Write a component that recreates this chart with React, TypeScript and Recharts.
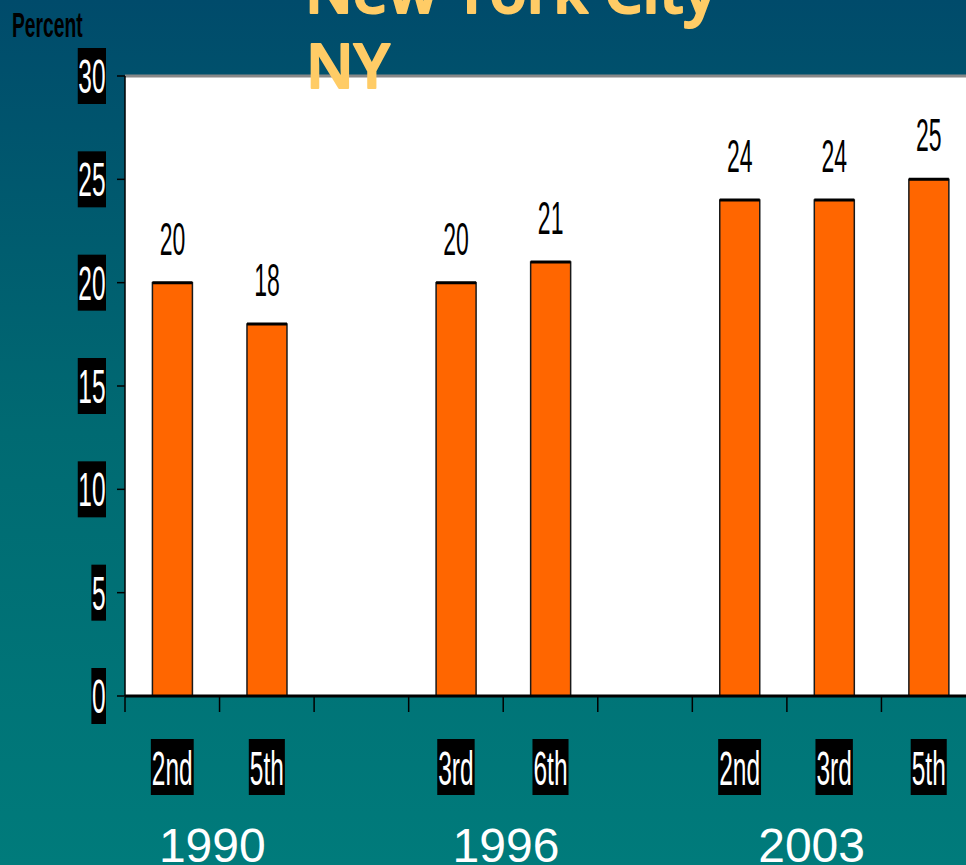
import React from 'react';
import {
  BarChart,
  Bar,
  XAxis,
  YAxis,
  CartesianGrid,
  ReferenceLine,
  LabelList,
} from 'recharts';

const grades = ['2nd', '5th', '', '3rd', '6th', '', '2nd', '3rd', '5th'];
const percents = [20, 18, null, 20, 21, null, 24, 24, 25];
const years = ['1990', '1996', '2003'];
const yearSlots = [0, 3, 6];
const yTicks = [0, 5, 10, 15, 20, 25, 30];

const chartData = grades.map((grade, i) => ({
  key: String(i),
  grade,
  value: percents[i],
}));

const CHART_W = 990;
const MARGIN = { top: 76, right: 14, bottom: 0, left: 0 };
const Y_AXIS_W = 125;
// width of one category slot, used for the tick marks between slots
const slotW = (CHART_W - MARGIN.left - MARGIN.right - Y_AXIS_W) / grades.length;

// nudges the year captions the way the slide had them
const yearShift = [40, 50, 72];

const FONT = '"Liberation Sans", Arial, sans-serif';
const charW: Record<string, number> = { n: 0.556, d: 0.556, t: 0.278, h: 0.556, r: 0.333 };
const textWidth = (s: string, size: number) =>
  s.split('').reduce((sum, c) => sum + (charW[c] ?? 0.556), 0) * size * 0.5;

const YTick = (props: any) => {
  const { x, y, payload } = props;
  const label = String(payload.value);
  const w = textWidth(label, 49) + 1;
  return (
    <g>
      <rect x={x - w} y={y - 28} width={w} height={56} fill="#000" />
      <text
        transform={`translate(${x - w / 2},${y + 17}) scale(0.5,1)`}
        textAnchor="middle"
        fontFamily={FONT}
        fontSize={49}
        fill="#fff"
      >
        {label}
      </text>
    </g>
  );
};

const XTick = (props: any) => {
  const { x, y, index } = props;
  const label = grades[index];
  const w = textWidth(label, 49) + 2;
  const yearIdx = yearSlots.indexOf(index);
  const left = x - slotW / 2;
  return (
    <g>
      <line x1={left} x2={left} y1={y + 1} y2={y + 16} stroke="#000" strokeWidth={1.5} />
      {index === grades.length - 1 && (
        <line x1={left + slotW} x2={left + slotW} y1={y + 1} y2={y + 16} stroke="#000" strokeWidth={1.5} />
      )}
      {label && (
        <>
          <rect x={x - w / 2} y={y + 43} width={w} height={56} fill="#000" />
          <text
            transform={`translate(${x},${y + 89}) scale(0.5,1)`}
            textAnchor="middle"
            fontFamily={FONT}
            fontSize={49}
            fill="#fff"
          >
            {label}
          </text>
        </>
      )}
      {yearIdx >= 0 && (
        <text
          x={x + yearShift[yearIdx]}
          y={y + 166}
          textAnchor="middle"
          fontFamily={FONT}
          fontSize={48}
          fill="#fff"
        >
          {years[yearIdx]}
        </text>
      )}
    </g>
  );
};

const BarShape = (props: any) => {
  const { x, y, width, height } = props;
  if (!height) return null;
  return (
    <g>
      <rect x={x} y={y} width={width} height={height} fill="#FF6600" stroke="#1a1a1a" strokeWidth={1.5} />
      <line x1={x} x2={x + width} y1={y} y2={y} stroke="#000" strokeWidth={3} />
    </g>
  );
};

const ValueLabel = (props: any) => {
  const { x, y, width, value } = props;
  if (value == null) return null;
  return (
    <text
      transform={`translate(${x + width / 2},${y - 28}) scale(0.5,1)`}
      textAnchor="middle"
      fontFamily={FONT}
      fontSize={46}
      fill="#000"
    >
      {value}
    </text>
  );
};

const App: React.FC = () => {
  return (
    <div
      style={{
        position: 'fixed',
        left: 0,
        top: 0,
        width: 966,
        height: 865,
        overflow: 'hidden',
        background: 'linear-gradient(to bottom, #004b6b 0%, #006a72 50%, #007b7b 100%)',
      }}
    >
      <BarChart
        width={CHART_W}
        height={865}
        data={chartData}
        margin={MARGIN}
        barCategoryGap="29%"
      >
        <CartesianGrid
          horizontal={false}
          vertical={false}
          fill="#ffffff"
          fillOpacity={1}
        />
        <XAxis
          dataKey="key"
          height={169}
          interval={0}
          tickLine={false}
          axisLine={{ stroke: '#000', strokeWidth: 3 }}
          tickSize={0}
          tickMargin={0}
          tick={<XTick />}
        />
        <YAxis
          width={Y_AXIS_W}
          domain={[0, 30]}
          ticks={yTicks}
          interval={0}
          tickSize={8}
          tickMargin={11}
          tickLine={{ stroke: '#000', strokeWidth: 1.5 }}
          axisLine={{ stroke: '#000', strokeWidth: 1.5 }}
          tick={<YTick />}
        />
        <ReferenceLine y={30} stroke="#888888" strokeWidth={3} />
        <Bar dataKey="value" shape={<BarShape />} isAnimationActive={false}>
          <LabelList dataKey="value" content={<ValueLabel />} />
        </Bar>
      </BarChart>
      <svg
        width={966}
        height={865}
        style={{ position: 'absolute', left: 0, top: 0, pointerEvents: 'none' }}
      >
        <text
          transform="translate(12,37) scale(0.55,1)"
          fontFamily={FONT}
          fontWeight={700}
          fontSize={35}
          fill="#000"
        >
          Percent
        </text>
        <g
          fontFamily='"Open Sans", sans-serif'
          fontWeight={600}
          fontSize={61}
          fill="#FFCC66"
          stroke="#FFCC66"
          strokeWidth={2}
          strokeLinejoin="round"
        >
          <text x={305} y={13}>New York City</text>
          <text x={306} y={88}>NY</text>
        </g>
      </svg>
    </div>
  );
};

export default App;
